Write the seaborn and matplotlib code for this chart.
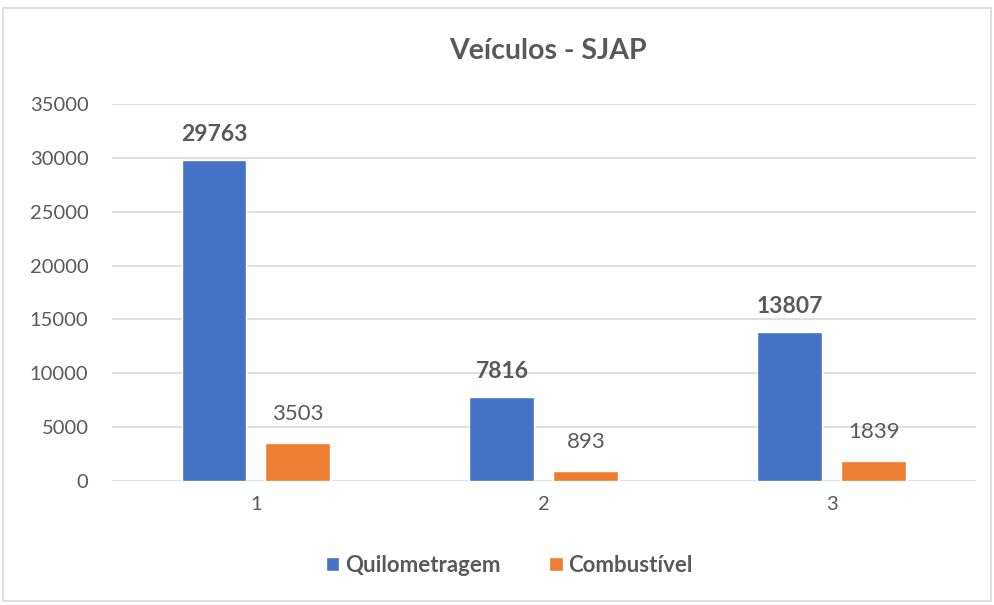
import pandas as pd
import matplotlib.pyplot as plt
import seaborn as sns
from matplotlib.patches import Rectangle

# data
categories = ['1', '2', '3']
quilometragem = [29763, 7816, 13807]
combustivel = [3503, 893, 1839]
series_names = ['Quilometragem', 'Combustível']
colors = ['#4472C4', '#ED7D31']

df = pd.DataFrame({
    'veiculo': categories * 2,
    'valor': quilometragem + combustivel,
    'serie': [series_names[0]] * 3 + [series_names[1]] * 3,
})

sns.set_style('white')
plt.rcParams['font.family'] = ['Lato', 'DejaVu Sans']
txt = '#595959'

fig = plt.figure(figsize=(9.95, 6.05), dpi=100)
ax = fig.add_axes([0.1126, 0.205, 0.868, 0.623])

sns.barplot(data=df, x='veiculo', y='valor', hue='serie', palette=colors,
            saturation=1, width=0.583, gap=0.226, ax=ax, legend=True, zorder=3)

ax.set_ylim(0, 35000)
ax.set_xlim(-0.5, 2.5)
ax.set_yticks(range(0, 35001, 5000))
ax.yaxis.grid(True, color='#d9d9d9', linewidth=1.2, zorder=0)
for s in ax.spines.values():
    s.set_visible(False)
ax.tick_params(axis='both', length=0, labelsize=14.5, labelcolor=txt)
ax.tick_params(axis='y', pad=17)
ax.tick_params(axis='x', pad=11)
ax.set_xlabel('')
ax.set_ylabel('')

# data labels
ax.bar_label(ax.containers[0], padding=11, fontsize=16.5, fontweight='bold', color=txt)
ax.bar_label(ax.containers[1], padding=14, fontsize=16, color=txt)

fig.suptitle('Veículos - SJAP', x=0.551, y=0.937, fontsize=20.5, fontweight='bold', color=txt)

leg = ax.legend(loc='center', bbox_to_anchor=(0.46, -0.223), ncol=2, frameon=False,
                handlelength=0.6, handleheight=0.6, handletextpad=0.25, columnspacing=2.2,
                prop={'size': 16, 'weight': 'bold'})
for t in leg.get_texts():
    t.set_color(txt)

# outer chart border
fig.patches.append(Rectangle((0.003, 0.006), 0.993, 0.981, transform=fig.transFigure,
                             fill=False, edgecolor='#d9d9d9', linewidth=1.2))

fig.savefig('out.png', dpi=100)
